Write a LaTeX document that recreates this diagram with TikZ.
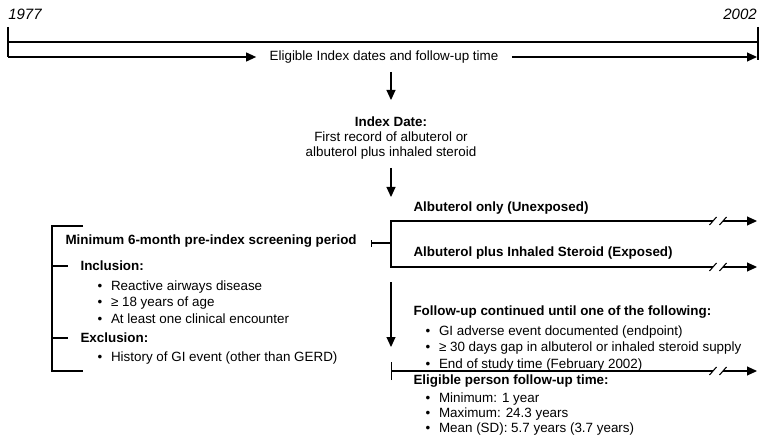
\documentclass[tikz,border=0pt]{standalone}
\usepackage{fontspec}
\setmainfont{Liberation Sans}
\usetikzlibrary{arrows.meta,positioning}
\newcommand{\bul}{\makebox[13.5pt][l]{\textbullet}}
\tikzset{
  every node/.style={inner sep=0pt,font=\fontsize{13.4}{16.5}\selectfont},
  hd/.style={anchor=west,font=\fontsize{13.4}{16.5}\selectfont\bfseries},
  txt/.style={anchor=west},
  yr/.style={font=\fontsize{15}{18}\selectfont\itshape},
  lst/.style={anchor=north west,align=left},
  arr/.style={-{Triangle[length=10pt,width=9pt]}},
  brk/.pic={\draw (-3.5,4) -- (3.5,-4); \draw (6.5,4) -- (13.5,-4);}
}
\begin{document}
\begin{tikzpicture}[x=1pt,y=-1pt,line width=1.05pt]
\useasboundingbox (0,0) rectangle (766,441);
% time line 1977 - 2002
\node[yr] (y0) at (25,14) {1977};
\node[yr] (y1) at (740,14) {2002};
\coordinate (s0) at (8,27);
\coordinate (s1) at (8,57);
\coordinate (e0) at (758,27);
\coordinate (e1) at (758,60);
\coordinate (e2) at (757,57);
\draw (s0) -- (s1);
\draw (e0) -- (e1);
\draw (8,42) -- (758,42);
\node (period) at (384,57) {Eligible Index dates and follow-up time};
\draw[arr] (s1) -- ([xshift=-13pt]period.west);
\draw[arr] ([xshift=13pt]period.east) -- (e2);
%
\coordinate (a1) at (391,72);
\coordinate (a2) at (391,100);
\draw[arr] (a1) -- (a2);
\node (idx) [anchor=north,align=center,font=\fontsize{13.4}{15.3}\selectfont] at (391,116)
  {\textbf{Index Date:}\\First record of albuterol or\\albuterol plus inhaled steroid};
\coordinate (a3) at (391,168);
\coordinate (a4) at (391,197);
\draw[arr] (a3) -- (a4);
% two cohorts
\node[hd] (unexp) at (413,208) {Albuterol only (Unexposed)};
\node[hd] (exp) at (413,253) {Albuterol plus Inhaled Steroid (Exposed)};
\coordinate (u0) at (391,221);
\coordinate (u1) at (713,221);
\coordinate (u2) at (723,221);
\coordinate (u3) at (757,221);
\coordinate (x0) at (391,267);
\coordinate (x1) at (713,267);
\coordinate (x2) at (723,267);
\coordinate (x3) at (757,267);
\draw (u1) -- (u0) -- (x0) -- (x1);
\pic at (u1) {brk};
\pic at (x1) {brk};
\draw[arr] (u2) -- (u3);
\draw[arr] (x2) -- (x3);
\coordinate (m0) at (371,243);
\coordinate (m1) at (391,243);
\draw[{Bar[width=7pt]}-] (m0) -- (m1);
% screening period
\node[hd] (minp) at (65,241) {Minimum 6-month pre-index screening period};
\node[hd] (incl) at (80,266) {Inclusion:};
\node[lst] (incll) at (97,280)
  {\bul Reactive airways disease\\\bul ≥ 18 years of age\\\bul At least one clinical encounter};
\node[hd] (excl) at (80,338) {Exclusion:};
\node[lst] (excll) at (97,351) {\bul History of GI event (other than GERD)};
\draw (83,226) -- (52,226) -- (52,371) -- (83,371);
\draw (52,266) -- (68,266);
\draw (52,338) -- (68,338);
% follow-up
\coordinate (a5) at (391,282);
\coordinate (a6) at (391,347);
\draw[arr] (a5) -- (a6);
\node[hd] (fu) at (413,312) {Follow-up continued until one of the following:};
\node[lst] (ful) at (425,325)
  {\bul GI adverse event documented (endpoint)\\\bul ≥ 30 days gap in albuterol or inhaled steroid supply\\\bul End of study time (February 2002)};
\coordinate (f0) at (391,371);
\coordinate (f1) at (713,371);
\coordinate (f2) at (723,371);
\coordinate (f3) at (757,371);
\draw[{Bar[width=18pt]}-] (f0) -- (f1);
\pic at (f1) {brk};
\draw[arr] (f2) -- (f3);
\node[hd] (elig) at (413,381) {Eligible person follow-up time:};
\node[lst,font=\fontsize{13.4}{15}\selectfont] (eligl) at (425,392)
  {\bul Minimum: 1 year\\\bul Maximum: 24.3 years\\\bul Mean (SD): 5.7 years (3.7 years)};
\end{tikzpicture}
\end{document}
